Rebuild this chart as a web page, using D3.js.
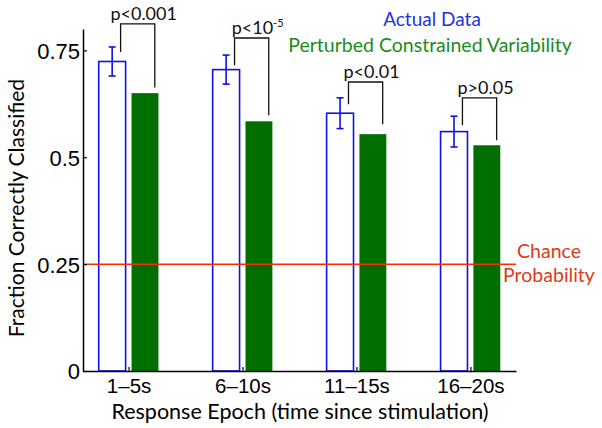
<!DOCTYPE html>
<html>
<head>
<meta charset="utf-8">
<script src="https://cdn.jsdelivr.net/npm/d3@7"></script>
<style>
  html, body { margin: 0; padding: 0; background: #fff; }
  svg { display: block; }
</style>
</head>
<body>
<svg id="chart" width="602" height="428"></svg>
<script>
// ---- data ----
const categories = ["1–5s", "6–10s", "11–15s", "16–20s"];
const actualValues = [0.724, 0.705, 0.603, 0.560];
const actualErrors = [0.034, 0.034, 0.036, 0.036];
const perturbedValues = [0.650, 0.584, 0.554, 0.528];
const pLabels = ["p<0.001", "p<10", "p<0.01", "p>0.05"];
const pSuperscripts = ["", "-5", "", ""];
const bracketTops = [0.812, 0.779, 0.676, 0.639];
const bracketLeftEnds = [0.746, 0.715, 0.624, 0.575];
const bracketRightEnds = [0.663, 0.598, 0.577, 0.540];
const chanceLevel = 0.25;
const yTicks = [0, 0.25, 0.5, 0.75];
const yTickLabels = ["0", "0.25", "0.5", "0.75"];
const legendLabels = ["Actual Data", "Perturbed Constrained Variability"];
const chanceLabel = ["Chance", "Probability"];
const xTitle = "Response Epoch (time since stimulation)";
const yTitle = "Fraction Correctly Classified";

// ---- layout ----
const svg = d3.select("#chart");
const mLeft = 83, mRight = 516, mTop = 29, mBottom = 371;
const blue = "#1010e8", green = "#006f00", red = "#ff2a00";
const humanist = "Lato, 'Open Sans', sans-serif";
const helv = "'Liberation Sans', Arial, sans-serif";

const x = d3.scalePoint().domain(categories).range([mLeft, mRight]).padding(0.4);
const step = x.step();
const y = d3.scaleLinear().domain([0, 0.8]).range([mBottom, mTop]);

const barW = 0.236 * step;
const offset = 0.144 * step;

// actual (hollow blue) bars
svg.append("g").selectAll("rect").data(categories).join("rect")
  .attr("x", (d) => x(d) - offset - barW / 2)
  .attr("y", (d, i) => y(actualValues[i]))
  .attr("width", barW)
  .attr("height", (d, i) => y(0) - y(actualValues[i]))
  .attr("fill", "none")
  .attr("stroke", blue).attr("stroke-width", 1.6);

// perturbed (green) bars
svg.append("g").selectAll("rect").data(categories).join("rect")
  .attr("x", (d) => x(d) + offset - barW / 2)
  .attr("y", (d, i) => y(perturbedValues[i]))
  .attr("width", barW)
  .attr("height", (d, i) => y(0) - y(perturbedValues[i]))
  .attr("fill", green);

// chance line
svg.append("line")
  .attr("x1", mLeft).attr("x2", mRight)
  .attr("y1", y(chanceLevel)).attr("y2", y(chanceLevel))
  .attr("stroke", red).attr("stroke-width", 1.5);

// error bars
const eg = svg.append("g").attr("stroke", blue).attr("stroke-width", 1.6);
categories.forEach((c, i) => {
  const cx = x(c) - offset;
  const lo = y(actualValues[i] - actualErrors[i]);
  const hi = y(actualValues[i] + actualErrors[i]);
  eg.append("line").attr("x1", cx).attr("x2", cx).attr("y1", lo).attr("y2", hi);
  eg.append("line").attr("x1", cx - 3.5).attr("x2", cx + 3.5).attr("y1", lo).attr("y2", lo);
  eg.append("line").attr("x1", cx - 3.5).attr("x2", cx + 3.5).attr("y1", hi).attr("y2", hi);
});

// significance brackets
const bg = svg.append("g");
categories.forEach((c, i) => {
  const xl = x(c) - 0.07 * step;
  const xr = x(c) + 0.23 * step;
  bg.append("path")
    .attr("d", `M${xl},${y(bracketLeftEnds[i])}V${y(bracketTops[i])}H${xr}V${y(bracketRightEnds[i])}`)
    .attr("fill", "none").attr("stroke", "#111").attr("stroke-width", 1.3);
  const t = bg.append("text")
    .attr("x", (xl + xr) / 2 + 6)
    .attr("y", y(bracketTops[i]) - 4)
    .attr("text-anchor", "middle")
    .attr("font-family", humanist).attr("font-size", 18).attr("fill", "#111")
    .text(pLabels[i]);
  if (pSuperscripts[i]) {
    t.append("tspan").attr("dy", -7).attr("font-size", 11).text(pSuperscripts[i]);
  }
});

// axes
const yAxis = d3.axisLeft(y).tickValues(yTicks).tickFormat((d, i) => yTickLabels[i])
  .tickSizeInner(-4).tickSizeOuter(0).tickPadding(3);
const gy = svg.append("g").attr("transform", `translate(${mLeft},0)`).call(yAxis);
gy.select(".domain").attr("stroke", "#000").attr("stroke-width", 1.5);
gy.selectAll(".tick line").attr("stroke", "#000").attr("stroke-width", 1.2);
gy.selectAll(".tick text").attr("font-family", helv).attr("font-size", 22).attr("fill", "#000")
  .attr("dy", "0.36em");

const xAxis = d3.axisBottom(x).tickSizeInner(-4).tickSizeOuter(0).tickPadding(7);
const gx = svg.append("g").attr("transform", `translate(0,${mBottom})`).call(xAxis);
gx.select(".domain").attr("stroke", "#000").attr("stroke-width", 1.5);
gx.selectAll(".tick line").attr("stroke", "#000").attr("stroke-width", 1.2);
gx.selectAll(".tick text").attr("font-family", helv).attr("font-size", 20.5).attr("fill", "#000");

// axis titles
svg.append("text")
  .attr("x", 300).attr("y", 419)
  .attr("text-anchor", "middle")
  .attr("font-family", humanist).attr("font-size", 21.5).attr("fill", "#000")
  .text(xTitle);
svg.append("text")
  .attr("transform", "translate(24,208) rotate(-90)")
  .attr("text-anchor", "middle")
  .attr("font-family", humanist).attr("font-size", 21).attr("fill", "#000")
  .text(yTitle);

// legend
svg.append("text").attr("x", 432).attr("y", 26).attr("text-anchor", "middle")
  .attr("font-family", humanist).attr("font-size", 19).attr("fill", "#2233dd")
  .text(legendLabels[0]);
svg.append("text").attr("x", 430).attr("y", 52).attr("text-anchor", "middle")
  .attr("font-family", humanist).attr("font-size", 19.5).attr("fill", "#1a8c1a")
  .text(legendLabels[1]);

// chance label
svg.append("text").attr("x", 549).attr("y", 258).attr("text-anchor", "middle")
  .attr("font-family", humanist).attr("font-size", 19.5).attr("fill", "#e0391a")
  .text(chanceLabel[0]);
svg.append("text").attr("x", 549).attr("y", 282).attr("text-anchor", "middle")
  .attr("font-family", humanist).attr("font-size", 19.5).attr("fill", "#e0391a")
  .text(chanceLabel[1]);
</script>
</body>
</html>
